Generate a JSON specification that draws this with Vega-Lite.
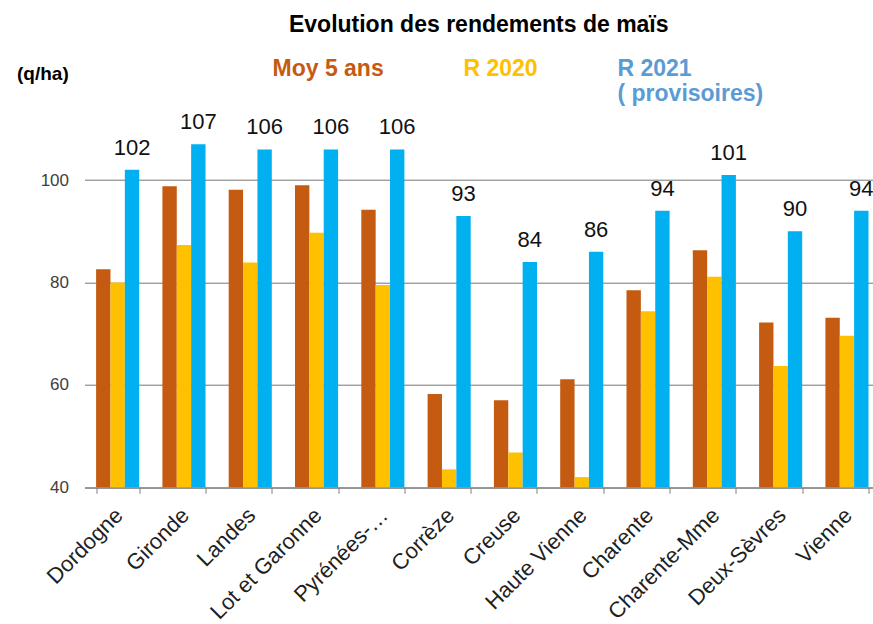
{
  "$schema": "https://vega.github.io/schema/vega-lite/v6.json",
  "width": 788.5,
  "height": 409.6,
  "autosize": {"type": "none"},
  "padding": {"left": 84.5, "top": 77.7, "right": 0, "bottom": 136.7},
  "background": "white",
  "config": {"font": "Liberation Sans", "view": {"stroke": null}},
  "title": {"text": "Evolution des rendements de maïs", "fontSize": 23, "fontWeight": "bold", "color": "#000000", "anchor": "middle", "frame": "group", "baseline": "alphabetic", "offset": -8},
  "data": {"values": [
    {"dept": "Dordogne", "serie": "Moy 5 ans", "value": 82.6},
    {"dept": "Dordogne", "serie": "R 2020", "value": 80.0},
    {"dept": "Dordogne", "serie": "R 2021", "value": 102},
    {"dept": "Gironde", "serie": "Moy 5 ans", "value": 98.8},
    {"dept": "Gironde", "serie": "R 2020", "value": 87.3},
    {"dept": "Gironde", "serie": "R 2021", "value": 107},
    {"dept": "Landes", "serie": "Moy 5 ans", "value": 98.1},
    {"dept": "Landes", "serie": "R 2020", "value": 83.9},
    {"dept": "Landes", "serie": "R 2021", "value": 106},
    {"dept": "Lot et Garonne", "serie": "Moy 5 ans", "value": 99.0},
    {"dept": "Lot et Garonne", "serie": "R 2020", "value": 89.7},
    {"dept": "Lot et Garonne", "serie": "R 2021", "value": 106},
    {"dept": "Pyrénées-…", "serie": "Moy 5 ans", "value": 94.2},
    {"dept": "Pyrénées-…", "serie": "R 2020", "value": 79.5},
    {"dept": "Pyrénées-…", "serie": "R 2021", "value": 106},
    {"dept": "Corrèze", "serie": "Moy 5 ans", "value": 58.2},
    {"dept": "Corrèze", "serie": "R 2020", "value": 43.5},
    {"dept": "Corrèze", "serie": "R 2021", "value": 93},
    {"dept": "Creuse", "serie": "Moy 5 ans", "value": 57.0},
    {"dept": "Creuse", "serie": "R 2020", "value": 46.8},
    {"dept": "Creuse", "serie": "R 2021", "value": 84},
    {"dept": "Haute Vienne", "serie": "Moy 5 ans", "value": 61.1},
    {"dept": "Haute Vienne", "serie": "R 2020", "value": 42.0},
    {"dept": "Haute Vienne", "serie": "R 2021", "value": 86},
    {"dept": "Charente", "serie": "Moy 5 ans", "value": 78.5},
    {"dept": "Charente", "serie": "R 2020", "value": 74.4},
    {"dept": "Charente", "serie": "R 2021", "value": 94},
    {"dept": "Charente-Mme", "serie": "Moy 5 ans", "value": 86.3},
    {"dept": "Charente-Mme", "serie": "R 2020", "value": 81.1},
    {"dept": "Charente-Mme", "serie": "R 2021", "value": 101},
    {"dept": "Deux-Sèvres", "serie": "Moy 5 ans", "value": 72.2},
    {"dept": "Deux-Sèvres", "serie": "R 2020", "value": 63.7},
    {"dept": "Deux-Sèvres", "serie": "R 2021", "value": 90},
    {"dept": "Vienne", "serie": "Moy 5 ans", "value": 73.1},
    {"dept": "Vienne", "serie": "R 2020", "value": 69.6},
    {"dept": "Vienne", "serie": "R 2021", "value": 94}
  ]},
  "layer": [
    {
      "mark": {"type": "bar"},
      "encoding": {
        "x": {
          "field": "dept", "type": "nominal", "sort": null,
          "scale": {"range": [0, 795.6], "paddingInner": 0.35, "paddingOuter": 0.175},
          "axis": {
            "title": null, "labelAngle": -45, "labelAlign": "right", "labelBaseline": "top",
            "labelFontSize": 22, "labelColor": "#1f1f1f", "labelPadding": 11, "labelOffset": -6,
            "tickBand": "extent", "tickSize": 6, "tickColor": "#7f7f7f", "domainColor": "#7f7f7f",
            "grid": false, "labelLimit": 300, "labelOverlap": false
          }
        },
        "xOffset": {"field": "serie", "type": "nominal", "sort": ["Moy 5 ans", "R 2020", "R 2021"]},
        "y": {
          "field": "value", "type": "quantitative",
          "scale": {"domain": [40, 120], "nice": false, "zero": false},
          "axis": {
            "values": [40, 60, 80, 100], "labelFontSize": 17, "labelColor": "#404040", "labelPadding": 16,
            "domain": false, "ticks": false, "grid": true, "gridColor": "#767676", "gridWidth": 1,
            "title": "(q/ha)", "titleAngle": 0, "titleX": -68, "titleY": 1.3, "titleAlign": "left",
            "titleBaseline": "alphabetic", "titleFontSize": 19, "titleFontWeight": "bold", "titleColor": "#000000"
          }
        },
        "y2": {"datum": 40},
        "color": {
          "field": "serie", "type": "nominal",
          "scale": {"domain": ["Moy 5 ans", "R 2020", "R 2021"], "range": ["#C55A11", "#FFC000", "#00B0F0"]},
          "legend": {
            "orient": "none", "legendX": 165, "legendY": -31, "direction": "horizontal", "title": null,
            "padding": 0, "symbolOpacity": 0, "symbolSize": 1, "symbolStrokeWidth": 0, "labelOffset": 0,
            "columnPadding": 56, "labelFontSize": 23, "labelFontWeight": "bold", "labelBaseline": "top",
            "labelLimit": 400,
            "labelExpr": "datum.value === 'R 2021' ? ['R 2021', '( provisoires)'] : [datum.value, '']",
            "encode": {"labels": {"update": {
              "fill": {"signal": "datum.value === 'Moy 5 ans' ? '#C55A11' : datum.value === 'R 2020' ? '#FFC000' : '#5B9BD5'"},
              "lineHeight": {"value": 25}
            }}}
          }
        }
      }
    },
    {
      "transform": [{"filter": "datum.serie === 'R 2021'"}],
      "mark": {"type": "text", "dy": -15, "baseline": "alphabetic", "fontSize": 22, "color": "#111111"},
      "encoding": {
        "x": {"field": "dept", "type": "nominal", "sort": null},
        "xOffset": {"field": "serie", "type": "nominal", "sort": ["Moy 5 ans", "R 2020", "R 2021"]},
        "y": {"field": "value", "type": "quantitative"},
        "text": {"field": "value", "type": "quantitative"}
      }
    }
  ]
}
